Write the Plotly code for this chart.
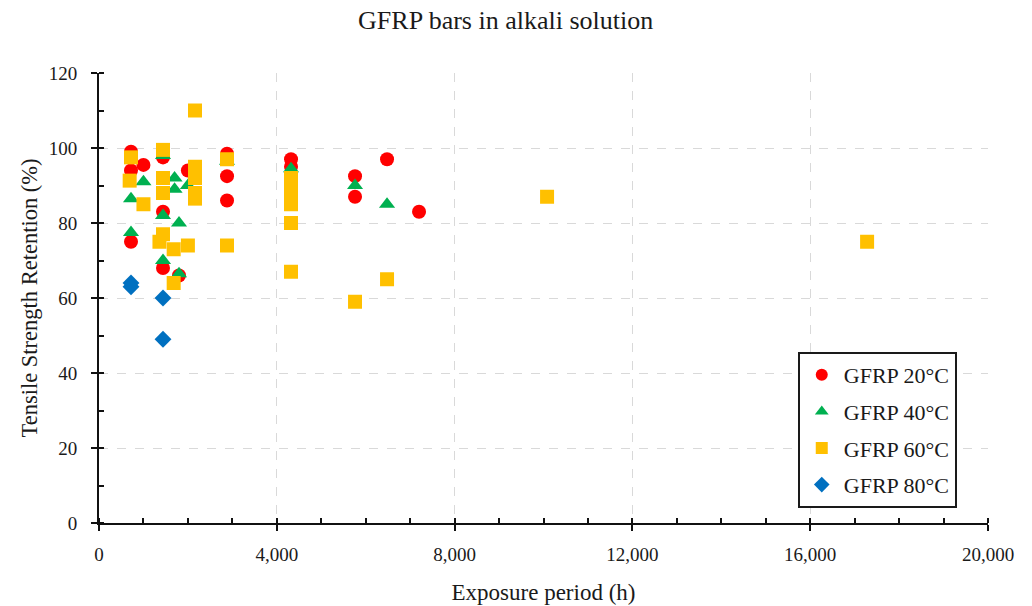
import plotly.graph_objects as go

# GFRP 20°C
x20 = [720, 720, 720, 1000, 1440, 1440, 1440, 1800, 2000, 2880, 2880, 2880, 4320, 4320, 5760, 5760, 6480, 7200]
y20 = [99, 94, 75, 95.5, 97.5, 83, 68, 66, 94, 98.5, 92.5, 86, 97, 95, 92.5, 87, 97, 83]

# GFRP 40°C
x40 = [720, 720, 1000, 1440, 1440, 1440, 1700, 1700, 1800, 1800, 2000, 2880, 4320, 5760, 6480]
y40 = [86.5, 77.5, 91, 98, 82, 70, 92, 89, 80, 66.5, 90, 96.5, 94.5, 90, 85]

# GFRP 60°C
x60 = [720, 690, 1000, 1360, 1440, 1440, 1440, 1440, 1680, 1680, 2000, 2160, 2160, 2160, 2160, 2160,
       2880, 2880, 4320, 4320, 4320, 4320, 4320, 4320, 5760, 6480, 10080, 17280]
y60 = [97.5, 91.3, 85, 75, 99.5, 92, 88, 77, 73, 64, 74, 110, 95, 92, 88, 86.5,
       97, 74, 92, 90, 88, 85, 80, 67, 59, 65, 87, 75]

# GFRP 80°C
x80 = [720, 720, 1440, 1440]
y80 = [64, 63, 60, 49]

series = [
    ("GFRP 20°C", x20, y20, "circle", "#FF0000"),
    ("GFRP 40°C", x40, y40, "triangle-up", "#00B050"),
    ("GFRP 60°C", x60, y60, "square", "#FFC000"),
    ("GFRP 80°C", x80, y80, "diamond", "#0070C0"),
]

FONT = "Liberation Serif"
TXT = "#1a1a1a"

fig = go.Figure()
for i, (name, xs, ys, sym, col) in enumerate(series):
    fig.add_trace(go.Scatter(
        x=xs, y=ys, mode="markers", name=name, legendgroup=f"g{i}",
        marker=dict(symbol=sym, color=col, size=14 if sym != "diamond" else 13, line=dict(width=0)),
    ))

fig.update_layout(
    width=1032, height=606,
    paper_bgcolor="white", plot_bgcolor="white",
    margin=dict(l=99, r=44, t=73, b=83),
    font=dict(family=FONT, size=19, color=TXT),
    title=dict(text="GFRP bars in alkali solution", x=0.49, xanchor="center", y=0.967, yanchor="middle",
               font=dict(family=FONT, size=26, color=TXT)),
    showlegend=True,
    legend=dict(x=0.786, y=0.38, xanchor="left", yanchor="top",
                bordercolor="#1a1a1a", borderwidth=2, bgcolor="white",
                font=dict(family=FONT, size=22, color=TXT),
                tracegroupgap=5, traceorder="grouped", itemwidth=34, itemsizing="constant",
                entrywidth=138, entrywidthmode="pixels"),
)

fig.update_xaxes(
    range=[0, 20000], tickvals=[0, 4000, 8000, 12000, 16000, 20000], tickformat=",",
    showline=True, linecolor="#111111", linewidth=2,
    ticks="outside", ticklen=6, tickwidth=2, tickcolor="#111111", ticklabelstandoff=7,
    showgrid=True, gridcolor="#d9d9d9", griddash="dash", gridwidth=1,
    zeroline=False, automargin=False,
    minor=dict(dtick=1000, tick0=0, ticks="inside", ticklen=5, tickwidth=1.5, tickcolor="#111111", showgrid=False),
    title=dict(text="Exposure period (h)", font=dict(family=FONT, size=23, color=TXT), standoff=20),
    tickfont=dict(family=FONT, size=19, color=TXT),
)
fig.update_yaxes(
    range=[0, 120], dtick=20, tick0=0,
    showline=True, linecolor="#111111", linewidth=2,
    ticks="outside", ticklen=6, tickwidth=2, tickcolor="#111111", ticklabelstandoff=10,
    showgrid=True, gridcolor="#d9d9d9", griddash="dash", gridwidth=1,
    zeroline=False, automargin=False,
    minor=dict(dtick=10, tick0=0, ticks="inside", ticklen=5, tickwidth=1.5, tickcolor="#111111", showgrid=False),
    title=dict(text="Tensile Strength Retention (%)", font=dict(family=FONT, size=22.5, color=TXT), standoff=5),
    tickfont=dict(family=FONT, size=19, color=TXT),
)

fig.write_html("out.html", config={"displayModeBar": False},
               post_script="document.body.style.margin='0';")
